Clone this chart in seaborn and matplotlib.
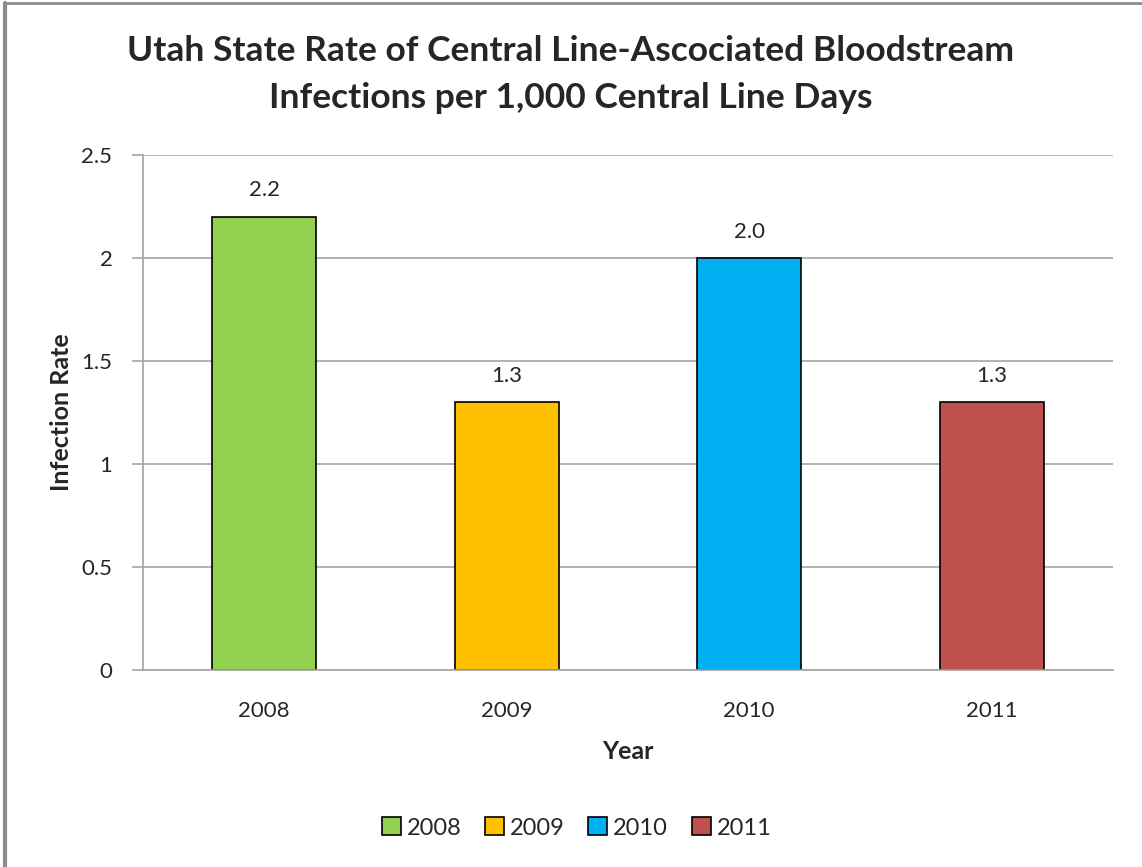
import pandas as pd
import matplotlib
matplotlib.use('Agg')
import matplotlib.pyplot as plt
import seaborn as sns
from matplotlib.patches import Patch
from matplotlib.lines import Line2D

years = ['2008', '2009', '2010', '2011']
rates = [2.2, 1.3, 2.0, 1.3]
colors = ['#92D050', '#FFC000', '#00B0F0', '#C0504D']

df = pd.DataFrame({'Year': years, 'Rate': rates})

sns.set_theme(style='white')
plt.rcParams['font.family'] = ['Lato', 'DejaVu Sans']

fig = plt.figure(figsize=(11.42, 8.67), dpi=100)
ax = fig.add_axes([0.1252, 0.2272, 0.8494, 0.594])

sns.barplot(data=df, x='Year', y='Rate', hue='Year', palette=colors, width=0.43, saturation=1,
            edgecolor='black', linewidth=1.2, legend=False, ax=ax)

ax.set_ylim(0, 2.5)
ax.set_yticks([0, 0.5, 1, 1.5, 2, 2.5])
ax.set_yticklabels(['0', '0.5', '1', '1.5', '2', '2.5'])
ax.yaxis.grid(True, color='#A6A6A6', linewidth=1.2)
ax.set_axisbelow(True)
for s in ['top', 'right']:
    ax.spines[s].set_visible(False)
ax.spines['left'].set_color('#A6A6A6')
ax.spines['bottom'].set_color('#A6A6A6')
ax.tick_params(axis='y', length=8, color='#A6A6A6', width=1.2, labelsize=16, pad=14, left=True)
ax.tick_params(axis='x', length=0, labelsize=16, pad=22)

for i, v in enumerate(rates):
    ax.text(i, v + 0.08, f'{v:.1f}', ha='center', va='bottom', fontsize=16)

ax.set_xlabel('Year', fontsize=18, fontweight='bold', labelpad=14)
ax.set_ylabel('Infection Rate', fontsize=18, fontweight='bold', labelpad=6)

fig.suptitle('Utah State Rate of Central Line-Ascociated Bloodstream\nInfections per 1,000 Central Line Days',
             x=0.5, y=0.96, fontsize=25.5, fontweight='bold', linespacing=1.6)

handles = [Patch(facecolor=c, edgecolor='black', linewidth=1.2) for c in colors]
fig.legend(handles, years, loc='center', bbox_to_anchor=(0.505, 0.045), ncol=4, frameon=False,
           fontsize=17, handlelength=0.8, handleheight=0.8, handletextpad=0.25, columnspacing=1.0)

# frame border on left and top
fig.add_artist(Line2D([0.004, 0.004], [0, 0.997], transform=fig.transFigure, color='#8C8C8C', linewidth=3))
fig.add_artist(Line2D([0.004, 1], [0.997, 0.997], transform=fig.transFigure, color='#8C8C8C', linewidth=2))

fig.savefig('out.png', dpi=100)
